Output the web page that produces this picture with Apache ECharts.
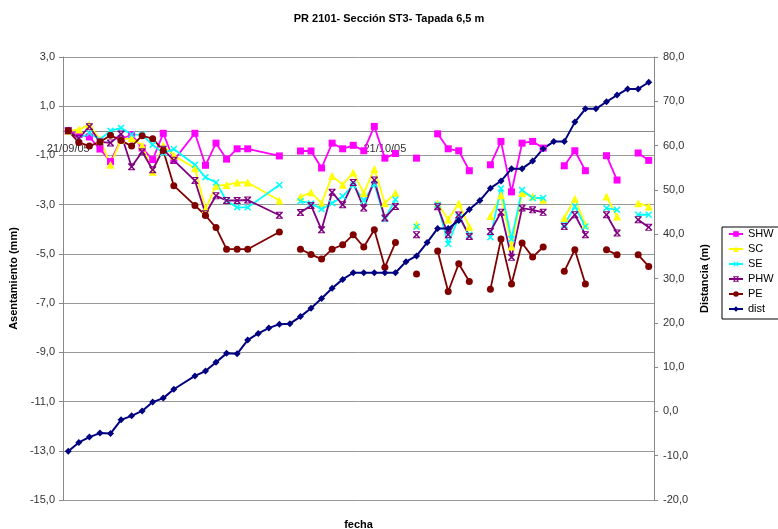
<!DOCTYPE html>
<html>
<head>
<meta charset="utf-8">
<script src="https://cdn.jsdelivr.net/npm/echarts@6/dist/echarts.min.js"></script>
<style>
  html, body { margin: 0; padding: 0; background: #fff; }
  #chart { width: 778px; height: 529px; }
</style>
</head>
<body>
<div id="chart"></div>
<script>
// días contados desde el 21/09/05
const etiquetaDias = [0, 30];
const etiquetasFecha = ["21/09/05", "21/10/05"];

// filas de asentamiento (null = sin lectura, corta la línea)
const diasAsent = [0, 1, 2, 3, 4, 5, 6, 7, 8, 9, 10, 12, 13, 14, 15, 16, 17, 20, 21, 22, 23, 24, 25, 26, 27, 28, 29, 30, 31, 32, 33, 34, 35, 36, 37, 38, 39, 40, 41, 42, 43, 44, 45, 46, 47, 48, 49, 50, 51, 52, 53, 54, 55];

const shw = [0.0, -0.15, -0.25, -0.74, -1.25, -0.35, -0.15, -0.7, -1.17, -0.1, -1.2, -0.1, -1.4, -0.5, -1.15, -0.73, -0.73, -1.02, null, -0.82, -0.82, -1.51, -0.5, -0.73, -0.59, -0.81, 0.18, -1.11, -0.92, null, -1.11, null, -0.12, -0.73, -0.81, -1.62, null, -1.38, -0.43, -2.48, -0.5, -0.43, -0.7, null, -1.42, -0.81, -1.62, null, -1.01, -2.0, null, -0.9, -1.2];
const sc = [0.0, 0.05, 0.25, -0.35, -1.38, -0.35, -0.3, -0.6, -1.66, -0.6, -1.0, -1.52, -3.18, -2.23, -2.2, -2.1, -2.1, -2.83, null, -2.68, -2.5, -2.94, -1.83, -2.19, -1.69, -2.53, -1.55, -2.94, -2.53, null, -3.82, null, -2.95, -3.6, -2.95, -3.9, null, -3.46, -2.62, -4.7, -2.53, -2.67, -2.8, null, -3.54, -2.76, -3.82, null, -2.67, -3.48, null, -2.94, -3.07];
const se = [0.0, -0.3, -0.1, -0.35, 0.0, 0.12, -0.15, -0.15, -0.57, -0.9, -0.74, -1.38, -1.89, -2.1, -2.85, -3.11, -3.11, -2.2, null, -2.86, -2.95, -3.18, -2.94, -2.66, -2.21, -2.84, -2.16, -3.58, -2.79, null, -3.9, null, -3.0, -4.6, -3.5, -4.22, null, -4.32, -2.34, -4.4, -2.4, -2.73, -2.73, null, -3.82, -3.07, -3.89, null, -3.14, -3.21, null, -3.41, -3.41];
const phw = [0.0, -0.3, 0.17, -0.45, -0.49, -0.13, -1.46, -0.85, -1.58, -0.75, -1.2, -2.02, -3.37, -2.64, -2.83, -2.83, -2.81, -3.43, null, -3.32, -3.03, -4.02, -2.5, -3.0, -2.1, -3.14, -2.0, -3.54, -3.07, null, -4.22, null, -3.08, -4.22, -3.42, -4.29, null, -4.09, -3.31, -5.14, -3.14, -3.21, -3.31, null, -3.89, -3.41, -4.22, null, -3.41, -4.15, null, -3.61, -3.92];
const pe = [0.0, -0.47, -0.62, -0.45, -0.18, -0.39, -0.62, -0.2, -0.32, -0.8, -2.23, -3.03, -3.44, -3.93, -4.81, -4.81, -4.81, -4.11, null, -4.81, -5.02, -5.21, -4.81, -4.63, -4.22, -4.72, -4.02, -5.54, -4.54, null, -5.82, null, -4.88, -6.53, -5.4, -6.12, null, -6.44, -4.4, -6.22, -4.56, -5.13, -4.72, null, -5.71, -4.83, -6.22, null, -4.83, -5.04, null, -5.04, -5.51];

// distancia del frente (eje derecho)
const diasDist = [0, 1, 2, 3, 4, 5, 6, 7, 8, 9, 10, 12, 13, 14, 15, 16, 17, 18, 19, 20, 21, 22, 23, 24, 25, 26, 27, 28, 29, 30, 31, 32, 33, 34, 35, 36, 37, 38, 39, 40, 41, 42, 43, 44, 45, 46, 47, 48, 49, 50, 51, 52, 53, 54, 55];
const dist = [-9.0, -7.0, -5.8, -4.9, -5.0, -1.9, -1.0, 0.1, 2.1, 3.0, 5.0, 8.0, 9.1, 11.1, 13.1, 13.0, 16.1, 17.6, 18.8, 19.7, 19.8, 21.4, 23.3, 25.5, 27.8, 29.8, 31.3, 31.3, 31.3, 31.3, 31.3, 33.8, 35.1, 38.1, 41.3, 41.3, 43.1, 45.6, 47.6, 50.4, 52.0, 54.8, 54.8, 56.5, 59.3, 60.9, 60.9, 65.3, 68.3, 68.3, 69.9, 71.4, 72.8, 72.8, 74.3];

const cruz = "path://M0,1.5L1.5,0L5,3.5L8.5,0L10,1.5L6.5,5L10,8.5L8.5,10L5,6.5L1.5,10L0,8.5L3.5,5Z";
const estrella = cruz + "M0,0L10,0L10,1.3L0,1.3ZM0,8.7L10,8.7L10,10L0,10Z";

const coma = (v) => v.toFixed(1).replace(".", ",");
const pares = (dias, vals) => dias.map((d, i) => [d, vals[i] == null ? "-" : vals[i]]);

const serieAsent = (name, vals, color, symbol, size) => ({
  name,
  type: "line",
  yAxisIndex: 0,
  data: pares(diasAsent, vals),
  symbol,
  symbolSize: size,
  connectNulls: false,
  lineStyle: { color, width: 1.8 },
  itemStyle: { color },
  emphasis: { disabled: true },
});

const myChart = echarts.init(document.getElementById("chart"));

// el eje de fechas cruza el eje izquierdo en 0 (3 / 18 del alto del área)
const alto = 529 - 57 - 29;
const subeEjeX = -Math.round(alto * 15 / 18);

const option = {
  animation: false,
  backgroundColor: "#fff",
  textStyle: { fontFamily: "Liberation Sans, Arial, sans-serif" },
  title: {
    text: "PR 2101- Sección ST3- Tapada 6,5 m",
    left: "center",
    top: 8,
    textStyle: { fontSize: 11, fontWeight: "bold", color: "#000" },
  },
  legend: {
    orient: "vertical",
    left: 722,
    top: 227,
    padding: [1, 6, 4, 6],
    itemWidth: 14,
    itemHeight: 7,
    itemGap: 3,
    borderColor: "#000",
    borderWidth: 1,
    backgroundColor: "#fff",
    textStyle: { fontSize: 11, color: "#000", lineHeight: 12 },
    data: ["SHW", "SC", "SE", "PHW", "PE", "dist"],
  },
  grid: { left: 63, right: 124, top: 57, bottom: 29, outerBoundsMode: "none", containLabel: false },
  xAxis: {
    type: "value",
    min: -0.5,
    max: 55.5,
    position: "bottom",
    offset: subeEjeX,
    name: "fecha",
    nameLocation: "middle",
    nameGap: 388,
    nameTextStyle: { fontSize: 11, fontWeight: "bold", color: "#000" },
    axisLine: { onZero: false, lineStyle: { color: "#888", width: 1 } },
    axisTick: { show: false },
    splitLine: { show: false },
    axisLabel: {
      customValues: etiquetaDias,
      margin: 12,
      fontSize: 11,
      color: "#333",
      formatter: (v) => etiquetasFecha[etiquetaDias.indexOf(v)] || "",
    },
  },
  yAxis: [
    {
      type: "value",
      min: -15,
      max: 3,
      interval: 2,
      name: "Asentamiento (mm)",
      nameLocation: "middle",
      nameRotate: 90,
      nameGap: 44,
      nameTextStyle: { fontSize: 11, fontWeight: "bold", color: "#000" },
      axisLine: { show: true, onZero: false, lineStyle: { color: "#888" } },
      axisTick: { show: true, length: 4, lineStyle: { color: "#888" } },
      axisLabel: { fontSize: 11, color: "#333", margin: 8, formatter: coma },
      splitLine: { lineStyle: { color: "#999", width: 1 } },
    },
    {
      type: "value",
      min: -20,
      max: 80,
      interval: 10,
      name: "Distancia (m)",
      nameLocation: "middle",
      nameRotate: 90,
      nameGap: 45,
      nameTextStyle: { fontSize: 11, fontWeight: "bold", color: "#000" },
      axisLine: { show: true, onZero: false, lineStyle: { color: "#888" } },
      axisTick: { show: true, length: 4, lineStyle: { color: "#888" } },
      axisLabel: { fontSize: 11, color: "#333", margin: 9, formatter: coma },
      splitLine: { show: false },
    },
  ],
  series: [
    serieAsent("SHW", shw, "#FF00FF", "rect", 7),
    serieAsent("SC", sc, "#FFFF00", "triangle", 8),
    serieAsent("SE", se, "#00FFFF", cruz, 7),
    serieAsent("PHW", phw, "#800080", estrella, 7),
    serieAsent("PE", pe, "#800000", "circle", 7),
    {
      name: "dist",
      type: "line",
      yAxisIndex: 1,
      data: pares(diasDist, dist),
      symbol: "diamond",
      symbolSize: 7,
      lineStyle: { color: "#000080", width: 2 },
      itemStyle: { color: "#000080" },
      emphasis: { disabled: true },
    },
  ],
};

myChart.setOption(option);
</script>
</body>
</html>
